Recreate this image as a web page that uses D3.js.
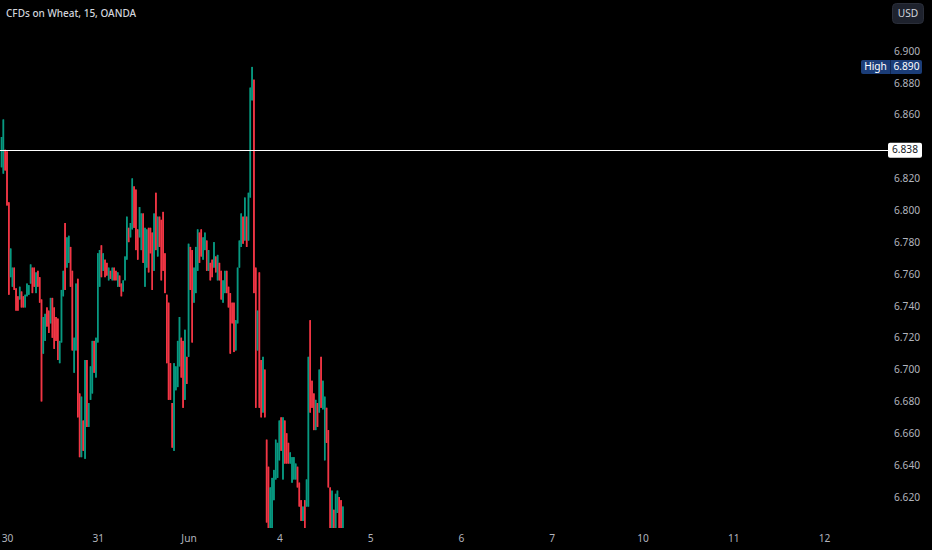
<!DOCTYPE html>
<html><head><meta charset="utf-8">
<script src="https://cdn.jsdelivr.net/npm/d3@7/dist/d3.min.js"></script>
<style>html,body{margin:0;padding:0;background:#000;}svg{display:block;}</style>
</head><body>
<svg id="chart" width="932" height="550"></svg>
<script>
// ---- data (15-minute bars; bar index 0 = first bar of May 30) ----
const firstBarIndex = -3;
const open = [
6.827,6.823,6.838,6.837,6.805,6.758,6.752,6.764,6.751,6.746,
6.744,6.749,6.746,6.739,6.746,6.747,6.754,6.764,6.764,6.748,
6.762,6.758,6.744,6.710,6.718,6.739,6.737,6.729,6.745,6.739,
6.733,6.732,6.704,6.717,6.746,6.792,6.764,6.767,6.777,6.762,
6.698,6.712,6.757,6.685,6.645,6.668,6.644,6.706,6.664,6.681,
6.685,6.718,6.695,6.717,6.752,6.778,6.762,6.769,6.767,6.756,
6.762,6.756,6.764,6.762,6.752,6.759,6.754,6.749,6.756,6.769,
6.789,6.783,6.788,6.815,6.813,6.788,6.783,6.775,6.798,6.752,
6.764,6.789,6.789,6.786,6.762,6.811,6.771,6.796,6.794,6.799,
6.773,6.747,6.742,6.704,6.679,6.649,6.687,6.689,6.702,6.720,
6.718,6.681,6.708,6.708,6.777,6.775,6.742,6.748,6.762,6.786,
6.788,6.769,6.775,6.781,6.762,6.767,6.769,6.764,6.771,6.756,
6.767,6.762,6.742,6.748,6.762,6.752,6.748,6.742,6.742,6.712,
6.729,6.764,6.777,6.796,6.781,6.796,6.781,6.808,6.869,6.882,
6.764,6.712,6.761,6.706,6.673,6.700,6.656,6.639,6.591,6.595,
6.618,6.631,6.632,6.643,6.670,6.631,6.668,6.660,6.654,6.641,
6.629,6.631,6.631,6.639,6.629,6.618,6.605,6.618,6.614,6.614,
6.731,6.693,6.685,6.662,6.679,6.673,6.708,6.675,6.643,6.676,
6.662,6.626,6.597,6.612,6.598,6.610,6.620,6.618,6.599];
const high = [
6.846,6.857,6.838,6.837,6.805,6.776,6.764,6.764,6.751,6.746,
6.752,6.749,6.746,6.747,6.754,6.753,6.766,6.764,6.764,6.761,
6.762,6.758,6.744,6.733,6.735,6.739,6.737,6.745,6.745,6.739,
6.733,6.732,6.718,6.750,6.762,6.792,6.783,6.784,6.777,6.762,
6.720,6.754,6.757,6.685,6.683,6.668,6.706,6.706,6.679,6.702,
6.718,6.718,6.720,6.773,6.775,6.778,6.773,6.769,6.767,6.764,
6.762,6.764,6.764,6.762,6.761,6.759,6.754,6.756,6.771,6.796,
6.789,6.792,6.820,6.815,6.813,6.788,6.802,6.798,6.798,6.789,
6.788,6.789,6.789,6.786,6.798,6.811,6.796,6.796,6.794,6.799,
6.773,6.747,6.742,6.704,6.679,6.704,6.702,6.718,6.733,6.720,
6.718,6.725,6.708,6.779,6.777,6.775,6.764,6.777,6.788,6.786,
6.788,6.783,6.786,6.781,6.775,6.767,6.769,6.780,6.771,6.772,
6.767,6.762,6.756,6.762,6.762,6.752,6.748,6.742,6.742,6.731,
6.764,6.781,6.798,6.796,6.808,6.796,6.811,6.877,6.890,6.882,
6.764,6.737,6.761,6.706,6.708,6.700,6.656,6.639,6.626,6.632,
6.637,6.656,6.654,6.668,6.670,6.670,6.668,6.660,6.654,6.648,
6.645,6.645,6.641,6.639,6.629,6.618,6.614,6.618,6.631,6.708,
6.731,6.693,6.685,6.681,6.679,6.700,6.708,6.693,6.683,6.676,
6.662,6.626,6.624,6.612,6.622,6.624,6.620,6.618,6.614];
const low = [
6.827,6.823,6.825,6.803,6.747,6.758,6.752,6.750,6.737,6.737,
6.744,6.739,6.739,6.739,6.746,6.747,6.754,6.748,6.752,6.748,
6.752,6.742,6.680,6.710,6.718,6.727,6.723,6.729,6.720,6.713,
6.718,6.706,6.704,6.717,6.746,6.750,6.764,6.767,6.752,6.712,
6.698,6.712,6.670,6.645,6.645,6.649,6.644,6.664,6.664,6.681,
6.685,6.698,6.695,6.717,6.752,6.758,6.762,6.758,6.759,6.756,
6.757,6.756,6.756,6.756,6.752,6.752,6.746,6.749,6.756,6.769,
6.780,6.783,6.788,6.789,6.775,6.769,6.783,6.775,6.767,6.752,
6.764,6.761,6.773,6.750,6.762,6.775,6.771,6.777,6.756,6.762,
6.748,6.704,6.681,6.681,6.651,6.649,6.687,6.689,6.702,6.695,
6.676,6.681,6.691,6.708,6.750,6.717,6.742,6.748,6.762,6.767,
6.771,6.769,6.775,6.762,6.762,6.756,6.758,6.764,6.761,6.756,
6.756,6.744,6.742,6.748,6.748,6.739,6.710,6.729,6.711,6.712,
6.729,6.764,6.777,6.779,6.781,6.777,6.781,6.808,6.869,6.748,
6.676,6.712,6.676,6.670,6.673,6.670,6.604,6.594,6.591,6.595,
6.618,6.631,6.632,6.643,6.649,6.631,6.641,6.641,6.641,6.641,
6.629,6.631,6.631,6.626,6.614,6.605,6.605,6.596,6.614,6.614,
6.673,6.676,6.662,6.662,6.664,6.673,6.676,6.675,6.643,6.654,
6.626,6.594,6.597,6.595,6.598,6.610,6.596,6.597,6.599];
const close = [
6.846,6.857,6.825,6.803,6.747,6.776,6.764,6.750,6.737,6.737,
6.752,6.739,6.739,6.747,6.754,6.753,6.766,6.748,6.752,6.761,
6.752,6.742,6.680,6.733,6.735,6.727,6.723,6.745,6.720,6.713,
6.718,6.706,6.718,6.750,6.762,6.750,6.783,6.784,6.752,6.712,
6.720,6.754,6.670,6.645,6.683,6.649,6.706,6.664,6.679,6.702,
6.718,6.698,6.720,6.773,6.775,6.758,6.773,6.758,6.759,6.764,
6.757,6.764,6.756,6.756,6.761,6.752,6.746,6.756,6.771,6.796,
6.780,6.792,6.820,6.789,6.775,6.769,6.802,6.798,6.767,6.789,
6.788,6.761,6.773,6.750,6.798,6.775,6.796,6.777,6.756,6.762,
6.748,6.704,6.681,6.681,6.651,6.704,6.702,6.718,6.733,6.695,
6.676,6.725,6.691,6.779,6.750,6.717,6.764,6.777,6.788,6.767,
6.771,6.783,6.786,6.762,6.775,6.756,6.758,6.780,6.761,6.772,
6.756,6.744,6.756,6.762,6.748,6.739,6.710,6.729,6.711,6.731,
6.764,6.781,6.798,6.779,6.808,6.777,6.811,6.877,6.890,6.748,
6.676,6.737,6.676,6.670,6.708,6.670,6.604,6.594,6.626,6.632,
6.637,6.656,6.654,6.668,6.649,6.670,6.641,6.641,6.641,6.648,
6.645,6.645,6.641,6.626,6.614,6.605,6.614,6.596,6.631,6.708,
6.673,6.676,6.662,6.681,6.664,6.700,6.676,6.693,6.683,6.654,
6.626,6.594,6.624,6.595,6.622,6.624,6.596,6.597,6.614];

const dayTickIndex = [0, 50, 100, 150, 200, 250, 300, 350, 400, 450];
const dayTickLabel = ["30", "31", "Jun", "4", "5", "6", "7", "10", "11", "12"];
const priceTicks = [6.62, 6.64, 6.66, 6.68, 6.70, 6.72, 6.74, 6.76, 6.78, 6.80, 6.82, 6.86, 6.88, 6.90];
const markerPrice = 6.838;
const sessionHigh = 6.890;
const titleText = "CFDs on Wheat, 15, OANDA";
const currencyText = "USD";

// ---- drawing ----
const W = 932, H = 550;
const paneRight = 888, paneBottom = 528;
const upColor = "#089981", downColor = "#f23645";
const textColor = "#b2b5be";
const font = "'Noto Sans', 'Open Sans', sans-serif";
const fs = "10.2px";

const bars = open.map((o, i) => ({ idx: firstBarIndex + i, o, h: high[i], l: low[i], c: close[i] }));

const x = d3.scaleLinear().domain([0, 50]).range([7, 97.78]);
const y = d3.scaleLinear().domain([6.62, 6.90]).range([497, 51]);
const bw = 1.5;

const svg = d3.select("#chart");
svg.append("rect").attr("width", W).attr("height", H).attr("fill", "#000");

svg.append("defs").append("clipPath").attr("id", "pane")
  .append("rect").attr("x", 0).attr("y", 0).attr("width", paneRight).attr("height", paneBottom);

const pane = svg.append("g").attr("clip-path", "url(#pane)");

const candle = pane.selectAll("g.c").data(bars).join("g").attr("class", "c")
  .attr("fill", d => d.c >= d.o ? upColor : downColor);
candle.append("rect")
  .attr("x", d => x(d.idx) - bw / 2)
  .attr("width", bw)
  .attr("y", d => y(d.h))
  .attr("height", d => Math.max(1, y(d.l) - y(d.h)));
candle.append("rect")
  .attr("x", d => x(d.idx) - bw / 2)
  .attr("width", bw)
  .attr("y", d => y(Math.max(d.o, d.c)))
  .attr("height", d => Math.max(1, Math.abs(y(d.o) - y(d.c))));

// horizontal marker line
svg.append("line")
  .attr("x1", 0).attr("x2", paneRight)
  .attr("y1", Math.round(y(markerPrice)) + 0.5).attr("y2", Math.round(y(markerPrice)) + 0.5)
  .attr("stroke", "#ffffff").attr("stroke-width", 1);

// price axis
const yAxis = d3.axisRight(y).tickValues(priceTicks).tickSize(0).tickPadding(6)
  .tickFormat(d3.format(".3f"));
const ya = svg.append("g").attr("transform", `translate(${paneRight},0)`).call(yAxis);
ya.select(".domain").remove();
ya.selectAll("text").attr("fill", textColor).style("font-family", font).style("font-size", fs);

// time axis
const xa = svg.append("g").attr("transform", `translate(0,${paneBottom})`)
  .call(d3.axisBottom(x).tickValues(dayTickIndex).tickSize(0).tickPadding(7)
    .tickFormat((d, i) => dayTickLabel[i]));
xa.select(".domain").remove();
xa.selectAll("text").attr("fill", textColor).style("font-family", font).style("font-size", fs);

// marker price label
const my = y(markerPrice);
svg.append("rect").attr("x", paneRight).attr("y", my - 7).attr("width", 34).attr("height", 15)
  .attr("rx", 2).attr("fill", "#ffffff");
svg.append("text").attr("x", paneRight + 17).attr("y", my + 1).attr("text-anchor", "middle")
  .attr("dominant-baseline", "middle").attr("fill", "#131722").style("font-family", font)
  .style("font-size", fs).text(d3.format(".3f")(markerPrice));

// High label
const hy = y(sessionHigh);
svg.append("rect").attr("x", 861).attr("y", hy - 7).attr("width", 61).attr("height", 14)
  .attr("rx", 2).attr("fill", "#1b3d78");
svg.append("rect").attr("x", 890).attr("y", hy - 7).attr("width", 1).attr("height", 14).attr("fill", "#0f2550");
svg.append("text").attr("x", 875.5).attr("y", hy + 0.5).attr("text-anchor", "middle")
  .attr("dominant-baseline", "middle").attr("fill", "#ffffff").style("font-family", font)
  .style("font-size", fs).text("High");
svg.append("text").attr("x", 906.5).attr("y", hy + 0.5).attr("text-anchor", "middle")
  .attr("dominant-baseline", "middle").attr("fill", "#ffffff").style("font-family", font)
  .style("font-size", fs).text(d3.format(".3f")(sessionHigh));

// title
svg.append("text").attr("x", 6).attr("y", 16.5).attr("fill", "#d1d4dc")
  .style("font-family", font).style("font-size", "10px").style("font-weight", 500).text(titleText);

// currency button
svg.append("rect").attr("x", 892.5).attr("y", 3.5).attr("width", 31).attr("height", 20).attr("rx", 4)
  .attr("fill", "#1e222d").attr("stroke", "#2a2e39");
svg.append("text").attr("x", 908).attr("y", 14).attr("text-anchor", "middle").attr("dominant-baseline", "middle")
  .attr("fill", "#d1d4dc").style("font-family", font).style("font-size", fs).text(currencyText);
</script>
</body></html>
